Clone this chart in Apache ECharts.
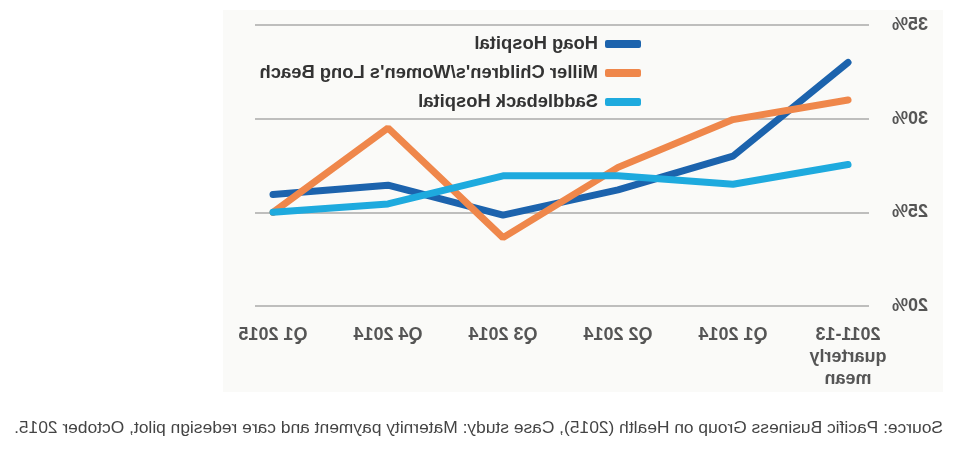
<!DOCTYPE html>
<html>
<head>
<meta charset="utf-8">
<script src="https://cdn.jsdelivr.net/npm/echarts@6/dist/echarts.min.js"></script>
<style>
html,body{margin:0;padding:0;background:#ffffff;}
#wrap{width:971px;height:453px;transform:scaleX(-1);transform-origin:center center;position:relative;}
#panel{position:absolute;left:28px;top:10px;width:720px;height:382px;background:#fafaf8;}
#chart{position:absolute;left:0;top:0;width:971px;height:453px;}
</style>
</head>
<body>
<div id="wrap"><div id="panel"></div><div id="chart"></div></div>
<script>
const categories = ['2011-13\nquarterly\nmean', 'Q1 2014', 'Q2 2014', 'Q3 2014', 'Q4 2014', 'Q1 2015'];
const hoag = [33.0, 28.0, 26.2, 24.85, 26.45, 25.95];
const miller = [31.0, 29.95, 27.4, 23.65, 29.5, 25.0];
const saddleback = [27.55, 26.5, 26.95, 26.95, 25.45, 25.0];
const yTicks = [20, 25, 30, 35];
const sourceText = 'Source: Pacific Business Group on Health (2015), Case study: Maternity payment and care redesign pilot, October 2015.';

const chart = echarts.init(document.getElementById('chart'), null, {renderer: 'canvas'});
const labelFont = 'Liberation Sans, Arial, sans-serif';
const seriesStyle = (name, data, color) => ({
  name, type: 'line', data, xAxisIndex: 1, yAxisIndex: 1,
  showSymbol: false, symbol: 'none',
  lineStyle: {width: 7, color, cap: 'round'},
  itemStyle: {color}
});
chart.setOption({
  animation: false,
  backgroundColor: 'transparent',
  title: {
    text: sourceText, left: 23, top: 415,
    textStyle: {fontFamily: labelFont, fontSize: 17.4, fontWeight: 'normal', color: '#444'}
  },
  legend: {
    orient: 'vertical', left: 325, top: 29, itemWidth: 36, itemHeight: 8, itemGap: 9,
    icon: 'roundRect',
    textStyle: {fontFamily: labelFont, fontSize: 18.4, fontWeight: 'bold', color: '#333', lineHeight: 20, padding: [0,0,0,2]},
    data: ['Hoag Hospital', "Miller Children's/Women's Long Beach", 'Saddleback Hospital']
  },
  grid: [
    {left: 102, width: 614, top: 25, height: 281},
    {left: 123, width: 575, top: 25, height: 281}
  ],
  xAxis: [
    {type: 'value', gridIndex: 0, show: false, min: 0, max: 1},
    {type: 'category', gridIndex: 1, data: categories, boundaryGap: false,
     axisLine: {show: false}, axisTick: {show: false}, splitLine: {show: false},
     axisLabel: {margin: 18, fontFamily: labelFont, fontSize: 18, fontWeight: 'bold', color: '#555', lineHeight: 22, align: 'center', interval: 0}}
  ],
  yAxis: [
    {type: 'value', gridIndex: 0, min: yTicks[0], max: yTicks[yTicks.length-1], interval: 5,
     axisLine: {show: false}, axisTick: {show: false},
     splitLine: {lineStyle: {color: '#aaaaaa', width: 1.5}},
     axisLabel: {margin: 23, formatter: '{value}%', fontFamily: labelFont, fontSize: 18, fontWeight: 'bold', color: '#555'}},
    {type: 'value', gridIndex: 1, min: yTicks[0], max: yTicks[yTicks.length-1], interval: 5, show: false, splitLine: {show: false}}
  ],
  series: [
    seriesStyle('Hoag Hospital', hoag, '#1c63ad'),
    seriesStyle("Miller Children's/Women's Long Beach", miller, '#ef874b'),
    seriesStyle('Saddleback Hospital', saddleback, '#1eaade')
  ]
});
</script>
</body>
</html>
